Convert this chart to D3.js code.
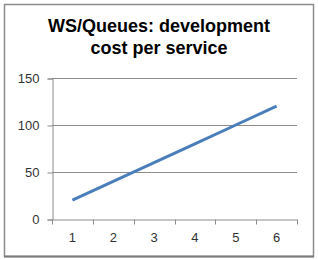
<!DOCTYPE html>
<html>
<head>
<meta charset="utf-8">
<script src="https://cdn.jsdelivr.net/npm/d3@7"></script>
<style>
body { margin: 0; background: #fff; }
text { font-family: "Liberation Sans", Arial, sans-serif; }
</style>
</head>
<body>
<div id="chart"></div>
<script>
const services = [1, 2, 3, 4, 5, 6];
const cost = [20, 40, 60, 80, 100, 120];
const yTicks = [0, 50, 100, 150];
const titleLines = ['WS/Queues: development', 'cost per service'];

const width = 318, height = 260;
const plotLeft = 52, plotRight = 297, plotTop = 78, plotBottom = 219;

const svg = d3.select('#chart')
    .append('svg')
    .attr('width', width)
    .attr('height', height);

svg.append('rect')
    .attr('x', 4.5).attr('y', 4.5)
    .attr('width', 309).attr('height', 252)
    .style('fill', '#fff')
    .style('stroke', '#8c8c8c')
    .style('stroke-width', 1.5);

// slightly heavier bottom edge like the original frame
svg.append('line')
    .attr('x1', 4).attr('x2', 314)
    .attr('y1', 256.5).attr('y2', 256.5)
    .style('stroke', '#7a7a7a')
    .style('stroke-width', 2);

svg.selectAll('.title')
    .data(titleLines)
    .enter()
    .append('text')
    .attr('class', 'title')
    .attr('x', 159)
    .attr('y', (d, i) => 32 + i * 22)
    .style('text-anchor', 'middle')
    .style('font-weight', 'bold')
    .style('font-size', '18px')
    .style('fill', '#000')
    .text(d => d);

let scaleX = d3.scaleBand().domain(services).range([plotLeft, plotRight]);
let scaleY = d3.scaleLinear().domain([0, 150]).range([plotBottom, plotTop]);

// gridlines
svg.selectAll('.grid')
    .data(yTicks.filter(d => d > 0))
    .enter()
    .append('line')
    .attr('x1', plotLeft).attr('x2', plotRight)
    .attr('y1', d => Math.round(scaleY(d)) + 0.5)
    .attr('y2', d => Math.round(scaleY(d)) + 0.5)
    .style('stroke', '#8c8c8c')
    .style('stroke-width', 1);

let yAxis = d3.axisLeft(scaleY).tickValues(yTicks).tickSize(5).tickPadding(8);
let xAxis = d3.axisBottom(scaleX).tickSize(0).tickPadding(13);

var yAxisGroup = svg.append('g')
    .attr('transform', 'translate(' + (plotLeft + 0.5) + ',0.5)')
    .call(yAxis);

var xAxisGroup = svg.append('g')
    .attr('transform', 'translate(0,' + (plotBottom + 0.5) + ')')
    .call(xAxis);

// category boundary ticks
xAxisGroup.selectAll('.bound')
    .data(services.concat([null]))
    .enter()
    .append('line')
    .attr('x1', (d, i) => Math.round(plotLeft + i * scaleX.bandwidth()) + 0.5)
    .attr('x2', (d, i) => Math.round(plotLeft + i * scaleX.bandwidth()) + 0.5)
    .attr('y1', 0).attr('y2', 5)
    .style('stroke', '#8c8c8c');

[yAxisGroup, xAxisGroup].forEach(g => {
    g.select('.domain').style('stroke', '#8c8c8c');
    g.selectAll('.tick line').style('stroke', '#8c8c8c');
    g.selectAll('text')
        .style('font-family', '"Liberation Sans", Arial, sans-serif')
        .style('font-size', '13px')
        .style('fill', '#333');
});

let line = d3.line()
    .x((d, i) => scaleX(services[i]) + scaleX.bandwidth() / 2)
    .y(d => scaleY(d));

svg.append('path')
    .datum(cost)
    .attr('d', line)
    .style('fill', 'none')
    .style('stroke', '#4a7ebb')
    .style('stroke-width', 3);
</script>
</body>
</html>
